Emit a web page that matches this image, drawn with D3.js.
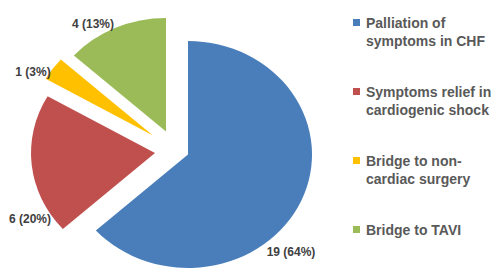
<!DOCTYPE html>
<html lang="en">
  <head>
    <meta charset="UTF-8" />
    <title>Indications</title>
    <script src="https://d3js.org/d3.v7.min.js"></script>
    <style>
      body {
        margin: 0;
        background-color: #FFFFFF;
        font-family: "Liberation Sans", Arial, sans-serif;
      }
    </style>
  </head>
  <body>
    <div id="my_dataviz"></div>
    <script>
      // data
      var categories = [
        "Palliation of symptoms in CHF",
        "Symptoms relief in cardiogenic shock",
        "Bridge to non-cardiac surgery",
        "Bridge to TAVI"
      ];
      var legendLines = [
        ["Palliation of", "symptoms in CHF"],
        ["Symptoms relief in", "cardiogenic shock"],
        ["Bridge to non-", "cardiac surgery"],
        ["Bridge to TAVI"]
      ];
      var counts = [19, 6, 1, 4];
      var percents = ["64%", "20%", "3%", "13%"];
      var colors = ["#4A7EBB", "#C0504D", "#FFC000", "#9BBB59"];

      // layout
      var width = 500, height = 279;
      var cx = 188, cy = 154.5;
      var ry = 113.5, rx = 124;
      // explosion of each slice (px) and label placement relative to slice centre
      var explode = [[0, 0], [-33, -1.5], [-35, -19], [-22, -23]];
      var labelOffset = [[103, 101.5], [-125, 69.5], [-120, -59.5], [-73, -104]];

      var svg = d3
        .select("#my_dataviz")
        .append("svg")
        .attr("width", width)
        .attr("height", height);

      var pie = d3.pie().sort(null).value(function (d) { return d; });
      var arcs = pie(counts);

      var arc = d3.arc().innerRadius(0).outerRadius(ry);

      var slices = svg
        .selectAll("g.slice")
        .data(arcs)
        .enter()
        .append("g")
        .attr("class", "slice")
        .attr("transform", function (d, i) {
          return "translate(" + (cx + explode[i][0]) + "," + (cy + explode[i][1]) + ")";
        });

      slices
        .append("path")
        .attr("d", arc)
        .attr("transform", "scale(" + rx / ry + ",1)")
        .attr("fill", function (d, i) { return colors[i]; });

      // data labels
      slices
        .append("text")
        .attr("x", function (d, i) { return labelOffset[i][0]; })
        .attr("y", function (d, i) { return labelOffset[i][1]; })
        .attr("text-anchor", "middle")
        .style("font-size", "12px")
        .style("font-weight", 700)
        .attr("fill", "#404040")
        .text(function (d, i) { return counts[i] + " (" + percents[i] + ")"; });

      // legend
      var legend = svg
        .selectAll("g.legend")
        .data(categories)
        .enter()
        .append("g")
        .attr("class", "legend")
        .attr("transform", function (d, i) {
          return "translate(353," + (27.5 + i * 69) + ")";
        });

      legend
        .append("rect")
        .attr("x", 0)
        .attr("y", -8.5)
        .attr("width", 7)
        .attr("height", 7)
        .attr("fill", function (d, i) { return colors[i]; });

      legend
        .append("text")
        .attr("x", 13)
        .attr("y", 0)
        .style("font-size", "14px")
        .style("font-weight", 700)
        .attr("fill", "#595959")
        .selectAll("tspan")
        .data(function (d, i) { return legendLines[i]; })
        .enter()
        .append("tspan")
        .attr("x", 13)
        .attr("dy", function (d, j) { return j === 0 ? 0 : 18.5; })
        .text(function (d) { return d; });
    </script>
  </body>
</html>
